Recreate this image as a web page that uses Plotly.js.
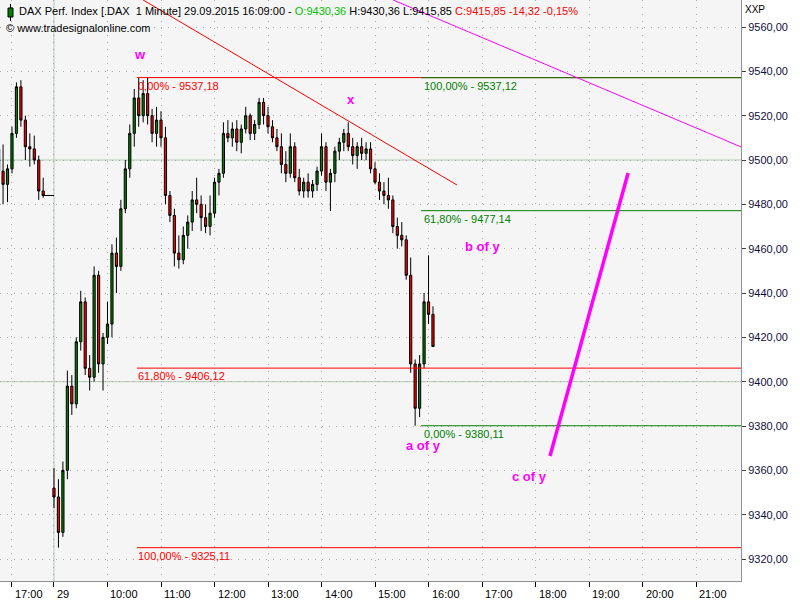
<!DOCTYPE html>
<html><head><meta charset="utf-8">
<script src="https://cdn.plot.ly/plotly-3.0.1.min.js"></script>
<style>html,body{margin:0;padding:0;background:#fff}#chart{width:800px;height:600px}</style>
</head><body><div id="chart"></div>
<script>
// ---------- DATA ----------
// previous session (28.09.2015), 5-minute candles
const prevTimes = ["16:45","16:50","16:55","17:00","17:05","17:10","17:15","17:20","17:25","17:30","17:35"];
const prevOpen  = [9505,9495,9489,9496,9512,9533,9518,9506,9505,9500,9486];
const prevHigh  = [9510,9507,9498,9515,9535,9536,9520,9512,9511,9502,9492];
const prevLow   = [9490,9480,9481,9494,9510,9515,9500,9497,9498,9482,9483];
const prevClose = [9495,9489,9496,9512,9533,9518,9506,9505,9500,9486,9484];

// session 29.09.2015, 5-minute candles
const dayTimes = ["09:00","09:05","09:10","09:15","09:20","09:25","09:30","09:35","09:40","09:45","09:50","09:55",
  "10:00","10:05","10:10","10:15","10:20","10:25","10:30","10:35","10:40","10:45","10:50","10:55",
  "11:00","11:05","11:10","11:15","11:20","11:25","11:30","11:35","11:40","11:45","11:50","11:55",
  "12:00","12:05","12:10","12:15","12:20","12:25","12:30","12:35","12:40","12:45","12:50","12:55",
  "13:00","13:05","13:10","13:15","13:20","13:25","13:30","13:35","13:40","13:45","13:50","13:55",
  "14:00","14:05","14:10","14:15","14:20","14:25","14:30","14:35","14:40","14:45","14:50","14:55",
  "15:00","15:05","15:10","15:15","15:20","15:25","15:30","15:35","15:40","15:45","15:50","15:55",
  "16:00","16:05"];
const dayOpen = [9352,9348,9332,9360,9398,9390,9418,9436,9406,9402,9448,9408,
  9420,9426,9458,9452,9478,9496,9512,9528,9520,9530,9520,9512,
  9518,9510,9484,9475,9458,9455,9466,9472,9482,9480,9474,9470,
  9476,9490,9494,9512,9510,9514,9508,9514,9520,9512,9516,9526,
  9520,9515,9510,9506,9498,9494,9506,9492,9486,9490,9486,9489,
  9495,9506,9490,9494,9504,9508,9512,9506,9502,9506,9503,9505,
  9496,9490,9486,9484,9482,9470,9466,9464,9448,9408,9388,9408,
  9436,9430.36];
const dayHigh = [9361,9356,9364,9405,9403,9420,9441,9438,9412,9452,9450,9422,
  9436,9462,9465,9482,9500,9516,9532,9537,9536,9537.18,9523,9524,
  9522,9515,9486,9478,9466,9470,9475,9486,9492,9484,9480,9484,
  9492,9496,9517,9518,9517,9518,9516,9524,9521,9518,9528,9528,
  9524,9518,9514,9512,9504,9512,9508,9496,9492,9494,9491,9497,
  9512,9508,9496,9506,9510,9514,9517,9510,9508,9510,9508,9508,
  9499,9494,9490,9492,9484,9474,9472,9466,9456,9410,9412,9440,
  9457,9434];
const dayLow = [9343,9325.11,9330,9356,9385,9388,9414,9403,9396,9400,9404,9396,
  9417,9420,9440,9450,9476,9492,9506,9515,9517,9516,9508,9506,
  9506,9480,9472,9452,9451,9453,9460,9468,9476,9468,9467,9466,
  9474,9484,9492,9508,9506,9504,9503,9512,9509,9509,9514,9516,
  9512,9508,9504,9494,9490,9492,9490,9484,9483,9483,9483,9486,
  9493,9486,9477,9490,9500,9504,9504,9498,9496,9500,9500,9494,
  9489,9482,9480,9478,9467,9460,9461,9446,9404,9380.11,9384,9406,
  9426,9415.85];
const dayClose = [9348,9332,9360,9398,9390,9418,9436,9406,9402,9448,9408,9420,
  9426,9458,9452,9478,9496,9512,9528,9520,9530,9520,9512,9518,
  9510,9484,9475,9458,9455,9466,9472,9482,9480,9474,9470,9476,
  9490,9494,9512,9510,9514,9508,9514,9520,9512,9516,9526,9520,
  9515,9510,9506,9498,9494,9506,9492,9486,9490,9486,9489,9495,
  9506,9490,9494,9504,9508,9512,9506,9502,9506,9503,9505,9496,
  9490,9486,9484,9482,9470,9466,9464,9448,9408,9388,9408,9436,
  9430.36,9415.85];

// axis ticks
const xTickHours  = [8.215, 9, 10, 11, 12, 13, 14, 15, 16, 17, 18, 19, 20, 21];
const xTickLabels = ["17:00","29","10:00","11:00","12:00","13:00","14:00","15:00","16:00","17:00","18:00","19:00","20:00","21:00"];
const yTicks = [9320,9340,9360,9380,9400,9420,9440,9460,9480,9500,9520,9540,9560];
const refLevels = [9400, 9500];

// Fibonacci retracements
const fibRedLevels  = [9537.18, 9406.12, 9325.11];
const fibRedLabels  = ["0,00% - 9537,18", "61,80% - 9406,12", "100,00% - 9325,11"];
const fibRedStart   = 10.55;
const fibGreenLevels = [9537.12, 9477.14, 9380.11];
const fibGreenLabels = ["100,00% - 9537,12", "61,80% - 9477,14", "0,00% - 9380,11"];
const fibGreenStart  = 15.86;

// trend lines (hours, price)
const redTrendX = [10.664, 16.533], redTrendY = [9572.2, 9488.7];
const magTrendX = [15.336, 21.84],  magTrendY = [9572.2, 9505.9];
const projX = [18.27, 19.73], projY = [9366.5, 9494.1];

// Elliott wave labels
const waveText  = ["w", "x", "b of y", "a of y", "c of y"];
const waveHour  = [10.607, 14.55, 17.0, 15.897, 17.88];
const wavePrice = [9547.4, 9527.5, 9460.8, 9371.0, 9357.0];

// ---------- BUILD ----------
const X0 = 7.991, X1 = 21.84, Y0 = 9310.08, Y1 = 9572.18;
const PREV_SHIFT = 8.215 - 17;
const toH = s => { const p = s.split(':').map(Number); return p[0] + p[1] / 60; };
const cx = prevTimes.map(t => toH(t) + PREV_SHIFT).concat(dayTimes.map(toH));
const cO = prevOpen.concat(dayOpen), cH = prevHigh.concat(dayHigh), cL = prevLow.concat(dayLow), cC = prevClose.concat(dayClose);

const FONT = "Liberation Sans, Arial, sans-serif";
const traces = [];
function hLines(levels, start, color) {
  const x = [], y = [];
  levels.forEach(l => { x.push(start, X1, null); y.push(l, l, null); });
  return {type:'scatter', mode:'lines', x, y, line:{color, width:1}, hoverinfo:'skip'};
}
traces.push(hLines(fibRedLevels, fibRedStart, '#ff0000'));
traces.push(hLines(fibGreenLevels, fibGreenStart, '#008000'));
traces.push({type:'scatter', mode:'lines', x:redTrendX, y:redTrendY, line:{color:'#ff0000', width:1}, hoverinfo:'skip'});
traces.push({type:'scatter', mode:'lines', x:magTrendX, y:magTrendY, line:{color:'#ff00ff', width:1}, hoverinfo:'skip'});
traces.push({type:'scatter', mode:'lines', x:projX, y:projY, line:{color:'#ff00ff', width:3.5}, hoverinfo:'skip'});
// flat line from previous session close to next open
const lastPrev = prevTimes.length - 1;
traces.push({type:'scatter', mode:'lines', x:[toH(prevTimes[lastPrev]) + PREV_SHIFT, toH(dayTimes[0])], y:[prevClose[lastPrev], prevClose[lastPrev]], line:{color:'#000', width:1}, hoverinfo:'skip'});
traces.push({type:'candlestick', x:cx, open:cO, high:cH, low:cL, close:cC, whiskerwidth:0,
  increasing:{line:{color:'#000', width:1}, fillcolor:'#008000'},
  decreasing:{line:{color:'#000', width:1}, fillcolor:'#ff0000'}, hoverinfo:'skip'});

const ann = [];
fibRedLevels.forEach((l, i) => ann.push({x:fibRedStart, y:l, xref:'x', yref:'y', text:fibRedLabels[i], showarrow:false,
  xanchor:'left', yanchor:'top', xshift:-1, yshift:0, font:{family:FONT, size:11, color:'#ff0000'}}));
fibGreenLevels.forEach((l, i) => ann.push({x:fibGreenStart, y:l, xref:'x', yref:'y', text:fibGreenLabels[i], showarrow:false,
  xanchor:'left', yanchor:'top', xshift:1, yshift:0, font:{family:FONT, size:11, color:'#008000'}}));
waveText.forEach((t, i) => ann.push({x:waveHour[i], y:wavePrice[i], xref:'x', yref:'y', text:'<b>'+t+'</b>', showarrow:false,
  font:{family:FONT, size:13, color:'#ff00ff'}}));
xTickHours.forEach((h, i) => ann.push({x:h, y:0, xref:'x', yref:'paper', text:xTickLabels[i], showarrow:false,
  xanchor:'left', yanchor:'top', xshift:1, yshift:-5, font:{family:FONT, size:11, color:'#000'}}));
ann.push({x:0, y:1, xref:'paper', yref:'paper', xanchor:'left', yanchor:'top', xshift:17, yshift:-3, showarrow:false,
  text:'DAX Perf. Index [.DAX  1 Minute] 29.09.2015 16:09:00 - <span style="color:#00c000">O:9430,36</span> H:9430,36 L:9415,85 <span style="color:#ff0000">C:9415,85 -14,32 -0,15%</span>',
  font:{family:FONT, size:11, color:'#000'}});
ann.push({x:0, y:1, xref:'paper', yref:'paper', xanchor:'left', yanchor:'top', xshift:4, yshift:-20, showarrow:false,
  text:'© www.tradesignalonline.com', font:{family:FONT, size:11, color:'#000'}});
ann.push({x:1, y:1, xref:'paper', yref:'paper', xanchor:'left', yanchor:'top', xshift:2, yshift:-2, showarrow:false,
  text:'XXP', font:{family:FONT, size:10, color:'#000'}});

const W = 741, Hp = 581;
const px = v => v / W, py = v => 1 - v / Hp;
const shapes = [];
refLevels.forEach(l => shapes.push({type:'line', xref:'paper', yref:'y', x0:0, x1:1, y0:l, y1:l, layer:'below', line:{color:'#b4c8b4', width:1}}));
shapes.push({type:'line', xref:'x', yref:'paper', x0:9, x1:9, y0:0, y1:1, layer:'below', line:{color:'#b4c8b4', width:1}});
// header icon
shapes.push({type:'line', xref:'paper', yref:'paper', x0:px(10.5), x1:px(10.5), y0:py(4), y1:py(21), line:{color:'#000', width:1}});
shapes.push({type:'rect', xref:'paper', yref:'paper', x0:px(8), x1:px(13), y0:py(8), y1:py(17), fillcolor:'#008000', line:{color:'#000', width:1}});

const layout = {
  width:800, height:600, margin:{l:0, r:59, t:0, b:19},
  paper_bgcolor:'#ffffff', plot_bgcolor:'#f5f5f5', showlegend:false, hovermode:false,
  separators:',.',
  font:{family:FONT, size:11, color:'#000'},
  xaxis:{type:'linear', range:[X0, X1], tickmode:'array', tickvals:xTickHours, showticklabels:false,
    ticks:'outside', ticklen:5, tickcolor:'#000', showline:true, linecolor:'#909090', linewidth:1,
    showgrid:true, gridcolor:'#a8a8a8', griddash:'1px,6px', zeroline:false, rangeslider:{visible:false}, fixedrange:true},
  yaxis:{side:'right', range:[Y0, Y1], tickmode:'array', tickvals:yTicks, tickformat:'.2f',
    ticks:'outside', ticklen:4, tickcolor:'#404040', showline:true, linecolor:'#909090', linewidth:1,
    tickfont:{family:FONT, size:11, color:'#10103a'},
    showgrid:true, gridcolor:'#a8a8a8', griddash:'1px,6px', zeroline:false, fixedrange:true},
  annotations:ann, shapes:shapes
};
Plotly.newPlot('chart', traces, layout, {displayModeBar:false, staticPlot:true});
</script></body></html>
